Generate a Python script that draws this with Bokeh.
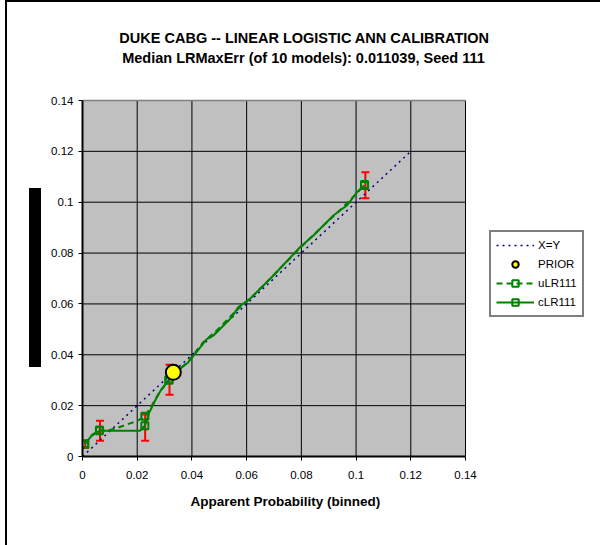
from bokeh.plotting import figure
from bokeh.models import (Range1d, FixedTicker, Legend, LegendItem, Whisker, Title,
                          TeeHead, ColumnDataSource, InlineStyleSheet)
from bokeh.core.properties import value
from bokeh.embed import file_html
from bokeh.resources import INLINE

# ---------------- data ----------------
tick_vals = [0.0, 0.02, 0.04, 0.06, 0.08, 0.1, 0.12, 0.14]
tick_labels = ["0", "0.02", "0.04", "0.06", "0.08", "0.1", "0.12", "0.14"]

title_1 = "DUKE CABG -- LINEAR LOGISTIC ANN CALIBRATION"
title_2 = "Median LRMaxErr (of 10 models): 0.011039, Seed 111"
x_title = "Apparent Probability (binned)"

xy_x = [0.0, 0.12]
xy_y = [0.0, 0.12]

prior_x = [0.0332]
prior_y = [0.0331]

# calibrated (solid) curve
clr_x = [0.0008, 0.0033, 0.0062, 0.0112, 0.0210, 0.0228, 0.0244, 0.0265, 0.0289, 0.0316,
         0.0356, 0.0386, 0.0411, 0.0454, 0.0478, 0.0545, 0.0569, 0.0612, 0.0697, 0.0795,
         0.0844, 0.0917, 0.0966, 0.1003, 0.1031]
clr_y = [0.0049, 0.0081, 0.0101, 0.0101, 0.0101, 0.0121, 0.0173, 0.0219, 0.0265, 0.0301,
         0.0344, 0.0370, 0.0403, 0.0462, 0.0475, 0.0547, 0.0587, 0.0620, 0.0711, 0.0823,
         0.0869, 0.0948, 0.0987, 0.1039, 0.1066]

# uncalibrated (dashed) curve
ulr_x = [0.0008, 0.0035, 0.0062, 0.0090, 0.0120, 0.0160, 0.0200, 0.0228, 0.0250, 0.0280,
         0.0316, 0.0350, 0.0390, 0.0440, 0.0500, 0.0560, 0.0620, 0.0700, 0.0800, 0.0880,
         0.0950, 0.1000, 0.1031]
ulr_y = [0.0049, 0.0085, 0.0104, 0.0102, 0.0110, 0.0125, 0.0140, 0.0158, 0.0195, 0.0250,
         0.0301, 0.0338, 0.0378, 0.0448, 0.0505, 0.0572, 0.0628, 0.0715, 0.0825, 0.0908,
         0.0978, 0.1032, 0.1070]

# binned points (markers)
clr_bin_x = [0.0008, 0.0062, 0.0228, 0.0316, 0.1031]
clr_bin_y = [0.0049, 0.0101, 0.0121, 0.0301, 0.1066]
ulr_bin_x = [0.0008, 0.0062, 0.0228, 0.0316, 0.1031]
ulr_bin_y = [0.0049, 0.0104, 0.0158, 0.0301, 0.1070]

# error bars
err_x = [0.0010, 0.0064, 0.0229, 0.0318, 0.1034]
err_lo = [0.0034, 0.0062, 0.0062, 0.0243, 0.1016]
err_hi = [0.0062, 0.0141, 0.0165, 0.0361, 0.1118]

# ---------------- layout ----------------
FONT = "Liberation Sans"
GREEN = "#008000"
W, H = 600, 545
LEFT, BOTTOM = 82, 89            # canvas pixels outside the frame
PLOT_W, PLOT_H = 383, 356        # pixels covered by the 0..0.14 plot area
AX_MAX = tick_vals[-1]
frame_w, frame_h = W - LEFT, H - BOTTOM
x_end = AX_MAX * frame_w / PLOT_W
y_end = AX_MAX * frame_h / PLOT_H


def px_x(px):  # canvas x pixel -> data x
    return (px - LEFT) * AX_MAX / PLOT_W


def px_y(py):  # canvas y pixel (from top) -> data y
    return (frame_h - py) * AX_MAX / PLOT_H


p = figure(width=W, height=H, output_backend="svg", toolbar_location=None,
           x_range=Range1d(0, x_end), y_range=Range1d(0, y_end), title=None,
           min_border_left=LEFT, min_border_right=0, min_border_top=0,
           min_border_bottom=BOTTOM)
p.background_fill_color = None
p.border_fill_color = None
p.outline_line_color = None
p.grid.visible = False

for ax in (p.xaxis[0], p.yaxis[0]):
    ax.ticker = FixedTicker(ticks=tick_vals)
    ax.bounds = (tick_vals[0], AX_MAX)
    ax.major_label_overrides = {v: l for v, l in zip(tick_vals, tick_labels)}
    ax.minor_tick_line_color = None
    ax.major_tick_in = 0
    ax.major_tick_out = 4
    ax.major_tick_line_color = "black"
    ax.axis_line_color = "black"
    ax.axis_line_width = 2
    ax.major_label_text_font = FONT
    ax.major_label_text_font_size = "11.5px"
    ax.major_label_text_color = "black"

p.yaxis[0].major_label_standoff = 5
p.xaxis[0].major_label_standoff = 10

# x-axis title, centred under the plot area (placed as a below-panel title)
p.add_layout(Title(text=x_title, align="left", offset=190 - LEFT, standoff=20,
                   text_font=FONT, text_font_size="13.5px", text_font_style="bold",
                   text_color="black"), "below")

# plot area background and grid
p.quad(left=[tick_vals[0]], right=[AX_MAX], bottom=[tick_vals[0]], top=[AX_MAX],
       fill_color="#C0C0C0", line_color=None, level="image")
inner = tick_vals[1:-1]
p.segment(x0=[0.0] * len(inner), x1=[AX_MAX] * len(inner), y0=inner, y1=inner,
          line_color="black", line_width=1, level="underlay")
p.segment(x0=tick_vals[1:], x1=tick_vals[1:], y0=[0.0] * (len(tick_vals) - 1),
          y1=[AX_MAX] * (len(tick_vals) - 1), line_color="black", line_width=1,
          level="underlay")
p.segment(x0=[0.0], x1=[AX_MAX], y0=[AX_MAX], y1=[AX_MAX], line_color="#808080",
          line_width=1.5, level="underlay")

# titles
p.text(x=[px_x(304), px_x(303)], y=[px_y(37), px_y(57)], text=[title_1, title_2],
       text_font=value(FONT), text_font_size="14.5px", text_font_style="bold",
       text_color="black", text_align="center", text_baseline="middle")

# series
r_xy = p.line(xy_x, xy_y, line_color="#000080", line_width=1.5, line_dash="2 4")

err_src = ColumnDataSource(dict(x=err_x, lo=err_lo, hi=err_hi))
wh = Whisker(source=err_src, base="x", lower="lo", upper="hi", dimension="height",
             line_color="red", line_width=2,
             upper_head=TeeHead(size=8, line_color="red", line_width=2),
             lower_head=TeeHead(size=8, line_color="red", line_width=2))
p.add_layout(wh)

r_ul = p.line(ulr_x, ulr_y, line_color=GREEN, line_width=2, line_dash="6 4")
r_us = p.scatter(ulr_bin_x, ulr_bin_y, marker="square", size=7, line_color=GREEN,
                 line_width=2, fill_color=None)
r_cl = p.line(clr_x, clr_y, line_color=GREEN, line_width=2)
r_cs = p.scatter(clr_bin_x, clr_bin_y, marker="square", size=7, line_color=GREEN,
                 line_width=2, fill_color=None)
r_pr = p.scatter(prior_x, prior_y, marker="circle", size=15, fill_color="yellow",
                 line_color="black", line_width=2)

legend = Legend(items=[
    LegendItem(label="X=Y", renderers=[r_xy]),
    LegendItem(label="PRIOR", renderers=[r_pr]),
    LegendItem(label="uLR111", renderers=[r_ul, r_us]),
    LegendItem(label="cLR111", renderers=[r_cl, r_cs]),
], location=(489 - LEFT, frame_h - 317), orientation="vertical")
legend.label_text_font = FONT
legend.label_text_font_size = "11.5px"
legend.label_text_color = "black"
legend.border_line_color = "black"
legend.border_line_width = 2
legend.background_fill_color = "white"
legend.background_fill_alpha = 1
legend.glyph_width = 38
legend.glyph_height = 16
legend.label_height = 16
legend.spacing = 3
legend.padding = 5
legend.label_standoff = 4
legend.margin = 0
p.add_layout(legend, "center")

# page decoration: frame lines at the left/top and the dark strip at the left
p.stylesheets = [InlineStyleSheet(css="""
:host {
  background:
    linear-gradient(#000, #000) 5px 0 / 2px 100% no-repeat,
    linear-gradient(#000, #000) 5px 0 / 595px 2px no-repeat,
    linear-gradient(#000, #000) 29px 188px / 12px 179px no-repeat,
    #fff;
}
""")]

open("out.html", "w").write(file_html(p, INLINE))
